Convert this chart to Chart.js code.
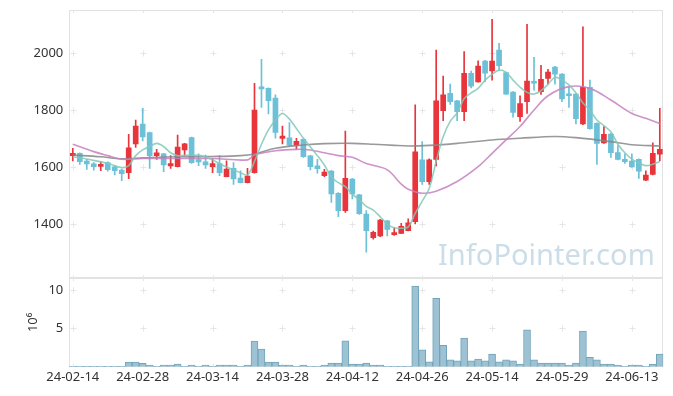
<!DOCTYPE html>
<html><head><meta charset="utf-8">
<script src="https://cdn.jsdelivr.net/npm/chart.js@4.4.1/dist/chart.umd.min.js"></script>
<style>
html,body{margin:0;padding:0;background:#fff;width:673px;height:396px;overflow:hidden}
#cA{position:absolute;left:0;top:0}
#cB{position:absolute;left:0;top:270px}
</style></head><body>
<canvas id="cA" width="673" height="280"></canvas>
<canvas id="cB" width="673" height="126"></canvas>
<script>
const dates = ["24-02-14","24-02-15","24-02-16","24-02-19","24-02-20","24-02-21","24-02-22","24-02-23","24-02-26","24-02-27",
"24-02-28","24-02-29","24-03-04","24-03-05","24-03-06","24-03-07","24-03-08","24-03-11","24-03-12","24-03-13",
"24-03-14","24-03-15","24-03-18","24-03-19","24-03-20","24-03-21","24-03-22","24-03-25","24-03-26","24-03-27",
"24-03-28","24-03-29","24-04-01","24-04-02","24-04-03","24-04-04","24-04-05","24-04-08","24-04-09","24-04-11",
"24-04-12","24-04-15","24-04-16","24-04-17","24-04-18","24-04-19","24-04-22","24-04-23","24-04-24","24-04-25",
"24-04-26","24-04-29","24-04-30","24-05-02","24-05-03","24-05-07","24-05-08","24-05-09","24-05-10","24-05-13",
"24-05-14","24-05-16","24-05-17","24-05-20","24-05-21","24-05-22","24-05-23","24-05-24","24-05-27","24-05-28",
"24-05-29","24-05-30","24-05-31","24-06-03","24-06-04","24-06-05","24-06-07","24-06-10","24-06-11","24-06-12",
"24-06-13","24-06-14","24-06-17","24-06-18","24-06-19"];

const openP  = [1640,1648,1621,1611,1602,1616,1601,1589,1580,1681,1751,1721,1640,1646,1604,1601,1660,1703,1626,1618,
1601,1612,1566,1595,1561,1545,1580,1880,1876,1842,1700,1702,1677,1697,1639,1604,1570,1586,1508,1447,
1558,1502,1435,1352,1358,1411,1363,1367,1377,1408,1625,1549,1627,1798,1859,1832,1794,1929,1899,1972,
1937,2010,1931,1863,1777,1829,1901,1864,1911,1951,1926,1856,1856,1751,1880,1753,1685,1716,1651,1627,
1621,1627,1554,1574,1645];
const highP  = [1666,1650,1627,1616,1619,1618,1605,1593,1715,1765,1806,1723,1662,1648,1640,1712,1683,1705,1646,1642,
1630,1640,1622,1616,1587,1595,1894,1978,1878,1853,1744,1756,1701,1699,1641,1627,1592,1588,1510,1726,
1560,1504,1447,1375,1416,1413,1387,1402,1418,1818,1689,1629,2010,1919,1891,1834,2005,1937,1973,1974,
2118,2034,1933,1865,1850,2101,1985,1957,1943,1953,1928,1880,1858,2092,1905,1755,1742,1718,1675,1646,
1646,1629,1587,1685,1806];
const lowP   = [1621,1609,1592,1589,1587,1585,1572,1552,1559,1669,1692,1595,1627,1584,1595,1600,1640,1613,1605,1595,
1580,1570,1565,1539,1544,1544,1578,1809,1786,1701,1681,1671,1662,1634,1590,1578,1566,1476,1426,1441,
1488,1434,1301,1347,1356,1358,1360,1366,1376,1400,1539,1539,1604,1763,1820,1763,1763,1878,1898,1899,
1905,1940,1855,1775,1760,1788,1870,1855,1891,1891,1829,1809,1751,1749,1733,1609,1683,1634,1625,1613,
1599,1560,1552,1572,1621];
const closeP = [1648,1619,1611,1601,1608,1591,1587,1577,1667,1744,1706,1640,1650,1607,1612,1670,1681,1615,1618,1607,
1612,1580,1593,1558,1545,1568,1800,1874,1833,1721,1709,1677,1690,1636,1601,1594,1582,1506,1447,1560,
1506,1436,1377,1371,1414,1381,1368,1392,1404,1653,1549,1625,1832,1853,1829,1794,1929,1884,1954,1929,
1972,1956,1856,1792,1823,1902,1894,1908,1933,1926,1839,1850,1770,1880,1735,1683,1715,1650,1627,1619,
1601,1585,1572,1648,1662];

// volume in millions
const volume = [0.05,0.05,0.05,0.05,0.05,0.05,0.05,0.05,0.6,0.6,
0.45,0.22,0.05,0.22,0.22,0.35,0.05,0.22,0.05,0.22,
0.05,0.22,0.22,0.22,0.05,0.22,3.35,2.3,0.6,0.6,
0.22,0.22,0.05,0.22,0.05,0.05,0.22,0.48,0.48,3.38,
0.35,0.35,0.48,0.22,0.22,0.05,0.05,0.05,0.05,10.5,
2.2,0.65,8.9,2.8,0.91,0.78,3.72,0.78,1.0,0.78,
1.65,0.65,0.91,0.78,0.35,4.8,0.91,0.48,0.48,0.48,
0.48,0.22,0.48,4.63,1.22,0.91,0.35,0.35,0.22,0.05,
0.22,0.22,0.05,0.35,1.65];

// moving average lines: [category index, value]
const maShort = [[0,1636],[2,1628],[4,1618],[5,1613],[7,1598],[8,1605],[9,1640],[10,1660],[11,1672],[12,1683],[13,1672],[14,1650],
[15,1640],[16,1641],[18,1641],[19,1636],[20,1625],[21,1612],[22,1600],[23,1590],[24,1580],[25,1572],[26,1620],[27,1680],[28,1730],
[29,1765],[30,1788],[31,1768],[32,1735],[33,1701],[34,1670],[35,1640],[36,1607],[37,1565],[38,1545],[39,1531],[40,1505],[41,1485],
[42,1462],[43,1449],[44,1425],[45,1400],[46,1387],[47,1385],[48,1390],[49,1437],[50,1480],[51,1525],[52,1620],[53,1706],[54,1760],
[55,1790],[56,1840],[57,1860],[58,1876],[59,1905],[60,1925],[61,1940],[62,1932],[63,1905],[64,1880],[65,1862],[66,1856],[67,1868],
[68,1890],[69,1915],[70,1905],[71,1888],[72,1860],[73,1825],[74,1800],[75,1765],[76,1745],[77,1724],[78,1680],[79,1650],[80,1628],
[81,1615],[82,1605],[83,1610],[84,1619]];
const maMid = [[0,1680],[3,1654],[5,1640],[7,1627],[10,1630],[15,1630],[20,1630],[25,1625],[26,1642],[29,1657],[32,1662],[34,1660],
[36,1650],[38,1640],[40,1634],[42,1612],[45,1590],[47,1540],[48,1522],[50,1508],[52,1515],[55,1549],[58,1601],[60,1648],[62,1695],
[64,1742],[66,1800],[68,1850],[71,1882],[74,1876],[77,1835],[80,1788],[82,1771],[84,1753]];
const maLong = [[0,1642],[4,1636],[7,1629],[10,1632],[15,1636],[20,1637],[24,1640],[26,1646],[29,1666],[33,1677],[36,1682],[40,1683],
[43,1680],[46,1676],[48,1674],[51,1676],[55,1683],[60,1695],[64,1701],[69,1707],[72,1703],[77,1689],[80,1678],[84,1674]];

const priceTicks = [1400,1600,1800,2000];
const volumeTicks = [5,10];
const volumeTitle = '10\u2076';
const watermark = 'InfoPointer.com';

const RED = '#e8343b', BLUE = '#6cc0d7';
const candleColors = closeP.map((c,i)=> c>=openP[i] ? RED : BLUE);
const toPts = arr => arr.map(([i,v])=>({x:dates[i], y:v}));
const FONT = 'Noto Sans';
const AXIS_W = 69.3;

const framePlugin = {
  id:'frame',
  beforeDatasetsDraw(chart, args, opts){
    const {ctx, chartArea:a, scales} = chart;
    ctx.save();
    if (opts.watermark){
      ctx.fillStyle = 'rgba(186,210,224,0.75)';
      let size = 29;
      ctx.font = size + 'px "' + FONT + '"';
      const w = ctx.measureText(opts.watermark).width;
      size = size * 217 / w;
      ctx.font = size + 'px "' + FONT + '"';
      ctx.textBaseline = 'alphabetic';
      ctx.fillText(opts.watermark, 438, 265);
    }
    ctx.strokeStyle = '#e2e2e2';
    ctx.lineWidth = 1;
    ctx.strokeRect(Math.round(a.left)+0.5, Math.round(a.top)+0.5, Math.round(a.right-a.left)-1, Math.round(a.bottom-a.top)-1);
    ctx.strokeStyle = '#e6e6e6';
    const xs = [];
    for (let i=0;i<dates.length;i+=10) xs.push(Math.round(scales.x.getPixelForValue(i))+0.5);
    const ys = opts.ticks.map(v=>Math.round(scales.y.getPixelForValue(v))+0.5);
    ctx.beginPath();
    xs.forEach(x=>{
      ys.forEach(y=>{ ctx.moveTo(x-3,y); ctx.lineTo(x+3,y); ctx.moveTo(x,y-3); ctx.lineTo(x,y+3); });
      ctx.moveTo(x,a.top); ctx.lineTo(x,a.top+3);
      ctx.moveTo(x,a.bottom-3); ctx.lineTo(x,a.bottom);
    });
    ctx.stroke();
    ctx.restore();
  }
};

const yTickFont = {family:FONT, size:13};
const fixY = s => { s.width = AXIS_W; s.paddingTop = 0; s.paddingBottom = 0; };

new Chart(document.getElementById('cA'), {
  type:'bar',
  data:{
    labels: dates,
    datasets:[
      {type:'line', data:toPts(maShort), borderColor:'rgba(130,200,185,0.85)', borderWidth:1.6, pointRadius:0, tension:0.35, spanGaps:true},
      {type:'line', data:toPts(maMid), borderColor:'rgba(198,128,190,0.85)', borderWidth:1.6, pointRadius:0, tension:0.35, spanGaps:true},
      {type:'line', data:toPts(maLong), borderColor:'rgba(135,135,135,0.85)', borderWidth:1.6, pointRadius:0, tension:0.35, spanGaps:true},
      {data: openP.map((o,i)=>[o, closeP[i]]), backgroundColor:candleColors, barThickness:5, grouped:false, minBarLength:2},
      {data: lowP.map((l,i)=>[l, highP[i]]), backgroundColor:candleColors, barThickness:1, grouped:false}
    ]
  },
  options:{
    responsive:false, animation:false, devicePixelRatio:1,
    layout:{padding:{top:10, right:9.7, bottom:1.7, left:0}},
    plugins:{legend:{display:false}, tooltip:{enabled:false}, frame:{ticks:priceTicks, watermark:watermark}},
    scales:{
      x:{display:false, offset:true},
      y:{min:1209.5, max:2151,
         afterBuildTicks:s=>{s.ticks = priceTicks.map(v=>({value:v}));},
         afterFit:fixY,
         grid:{display:false, drawTicks:false}, border:{display:false},
         ticks:{padding:6, color:'#333', font:yTickFont, callback:v=>String(v)}}
    }
  },
  plugins:[framePlugin]
});

new Chart(document.getElementById('cB'), {
  type:'bar',
  data:{
    labels: dates,
    datasets:[{data:volume, backgroundColor:'#9cc2d3', borderColor:'#72a4bb', borderWidth:1, barPercentage:1, categoryPercentage:1}]
  },
  options:{
    responsive:false, animation:false, devicePixelRatio:1,
    layout:{padding:{top:8, right:9.7, bottom:0, left:0}},
    plugins:{legend:{display:false}, tooltip:{enabled:false}, frame:{ticks:volumeTicks}},
    scales:{
      x:{offset:true, grid:{display:false, drawTicks:false}, border:{display:false},
         afterFit:s=>{s.height = 29.3; s.paddingLeft = 0; s.paddingRight = 0;},
         ticks:{autoSkip:false, maxRotation:0, minRotation:0, padding:3, color:'#333', font:{family:FONT, size:13},
                callback:(v,i)=> i%10===0 ? dates[i] : ''}},
      y:{min:0, max:11.56,
         afterBuildTicks:s=>{s.ticks = volumeTicks.map(v=>({value:v}));},
         afterFit:fixY,
         grid:{display:false, drawTicks:false}, border:{display:false},
         title:{display:true, text:volumeTitle, color:'#333', font:{family:FONT, size:13}, padding:{top:25, bottom:0}},
         ticks:{padding:6, color:'#333', font:yTickFont, callback:v=>String(v)}}
    }
  },
  plugins:[framePlugin]
});
</script>
</body></html>
